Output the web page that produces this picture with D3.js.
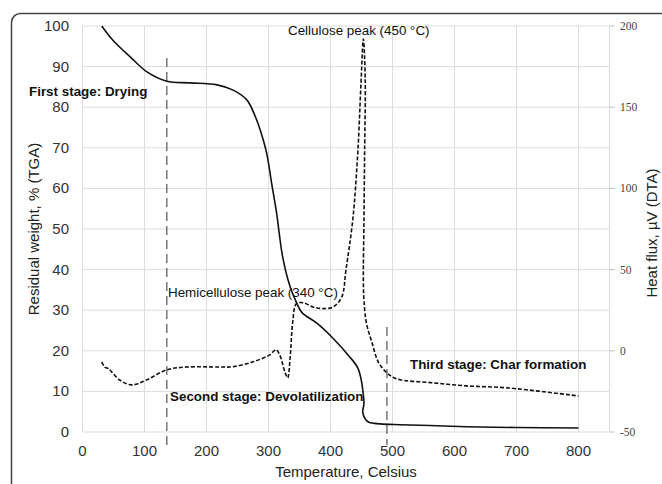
<!DOCTYPE html>
<html>
<head>
<meta charset="utf-8">
<script src="https://cdn.jsdelivr.net/npm/d3@7"></script>
<style>
  body { margin: 0; background: #fff; }
  text { font-family: "Liberation Sans", Arial, sans-serif; fill: #222; }
</style>
</head>
<body>
<div id="chart"></div>
<script>
// TGA curve (solid): residual weight %
const tgaTemp   = [31, 49, 77, 104, 136, 173, 217, 243, 265, 279, 287, 297, 305, 313, 323, 335, 346, 354, 378, 404, 431, 444, 450, 452, 454, 452, 456, 462, 480, 512, 560, 619, 700, 800];
const tgaWeight = [100, 96.5, 92.4, 88.7, 86.4, 86.0, 85.5, 84.2, 81.8, 77.6, 74.2, 68.7, 61.3, 54, 43, 35.7, 31.6, 29.4, 26.8, 23.1, 18.5, 15.8, 12.5, 10.3, 7.1, 4.9, 3.2, 2.4, 2.0, 1.8, 1.6, 1.3, 1.1, 1.0];

// DTA curve (dashed): heat flux µV
const dtaTemp = [31, 36, 42, 47, 60, 79, 103, 136, 168, 222, 243, 275, 302, 312, 318, 327, 331, 335, 339, 345, 356, 372, 388, 404, 418, 425, 436, 444, 449, 453, 456, 455, 454, 453, 454, 458, 467, 477, 491, 507, 565, 619, 684, 800];
const dtaVal  = [-6.8, -10, -11, -13, -18, -21, -18, -11.7, -10, -10, -9.8, -6.8, -2.5, 0.6, -2.5, -13.6, -16.7, -3.7, 17.3, 29, 29.6, 27, 26, 27, 33, 50, 81, 122, 163, 192, 167, 122, 81, 44, 31, 17, 5, -6.8, -13.6, -17.3, -19.7, -21.6, -22.8, -27.8];

const xTicks = [0, 100, 200, 300, 400, 500, 600, 700, 800];
const yLeftTicks = [0, 10, 20, 30, 40, 50, 60, 70, 80, 90, 100];
const yRightTicks = [-50, 0, 50, 100, 150, 200];
const stageLines = [136, 491];

const w = 662, h = 484;
const svg = d3.select('#chart').append('svg')
              .attr('width', w)
              .attr('height', h);

// outer frame
svg.append('rect')
   .attr('x', 11.5).attr('y', 13.5)
   .attr('width', 720).attr('height', 520)
   .attr('rx', 9)
   .attr('fill', 'none')
   .attr('stroke', '#444')
   .attr('stroke-width', 1.5);

const x = d3.scaleLinear().domain([0, 850]).range([82.5, 609.5]);
const yL = d3.scaleLinear().domain([0, 100]).range([432, 26]);
const yR = d3.scaleLinear().domain([-50, 200]).range([432, 26]);

// grid
svg.append('g')
   .selectAll('line')
   .data(yLeftTicks)
   .enter()
   .append('line')
   .attr('x1', x(0)).attr('x2', x(850))
   .attr('y1', d => yL(d)).attr('y2', d => yL(d))
   .attr('stroke', '#dcdcdc').attr('stroke-width', 1);

svg.append('g')
   .selectAll('line')
   .data(xTicks.concat([850]))
   .enter()
   .append('line')
   .attr('x1', d => x(d)).attr('x2', d => x(d))
   .attr('y1', yL(100)).attr('y2', yL(0))
   .attr('stroke', '#dcdcdc').attr('stroke-width', 1);

// x axis labels
svg.append('g')
   .selectAll('text')
   .data(xTicks)
   .enter()
   .append('text')
   .attr('x', d => x(d))
   .attr('y', 456)
   .attr('text-anchor', 'middle')
   .style('font-size', '15px')
   .style('fill', '#333')
   .text(d => d);

// left axis labels
svg.append('g')
   .selectAll('text')
   .data(yLeftTicks)
   .enter()
   .append('text')
   .attr('x', 69)
   .attr('y', d => yL(d) + 5)
   .attr('text-anchor', 'end')
   .style('font-size', '15px')
   .style('fill', '#333')
   .text(d => d);

// right axis ticks and labels
const rAxis = svg.append('g');
rAxis.selectAll('line')
     .data(yRightTicks)
     .enter()
     .append('line')
     .attr('x1', x(850)).attr('x2', x(850) + 5)
     .attr('y1', d => yR(d)).attr('y2', d => yR(d))
     .attr('stroke', '#bbb');
rAxis.selectAll('text')
     .data(yRightTicks)
     .enter()
     .append('text')
     .attr('x', 620)
     .attr('y', d => yR(d) + 4)
     .style('font-family', '"Liberation Serif", "Times New Roman", serif')
     .style('font-size', '11.5px')
     .style('fill', '#444')
     .text(d => d);

// axis titles
svg.append('text')
   .attr('x', x(425)).attr('y', 477)
   .attr('text-anchor', 'middle')
   .style('font-size', '15px')
   .text('Temperature, Celsius');

svg.append('text')
   .attr('transform', `translate(39,229) rotate(-90)`)
   .attr('text-anchor', 'middle')
   .style('font-size', '15px')
   .text('Residual weight, % (TGA)');

svg.append('text')
   .attr('transform', `translate(657,233) rotate(-90)`)
   .attr('text-anchor', 'middle')
   .style('font-size', '15px')
   .text('Heat flux, µV (DTA)');

// stage separators
svg.append('line')
   .attr('x1', x(stageLines[0])).attr('x2', x(stageLines[0]))
   .attr('y1', 58).attr('y2', 449)
   .attr('stroke', '#555').attr('stroke-width', 1.2)
   .attr('stroke-dasharray', '9,5');
svg.append('line')
   .attr('x1', x(stageLines[1])).attr('x2', x(stageLines[1]))
   .attr('y1', 327).attr('y2', 445)
   .attr('stroke', '#555').attr('stroke-width', 1.2)
   .attr('stroke-dasharray', '9,5');

// curves
const tgaLine = d3.line()
                  .x((d, i) => x(tgaTemp[i]))
                  .y(d => yL(d))
                  .curve(d3.curveCatmullRom.alpha(0.5));
svg.append('path')
   .attr('d', tgaLine(tgaWeight))
   .attr('fill', 'none')
   .attr('stroke', '#111')
   .attr('stroke-width', 1.6);

const dtaLine = d3.line()
                  .x((d, i) => x(dtaTemp[i]))
                  .y(d => yR(d))
                  .curve(d3.curveCatmullRom.alpha(0.5));
svg.append('path')
   .attr('d', dtaLine(dtaVal))
   .attr('fill', 'none')
   .attr('stroke', '#111')
   .attr('stroke-width', 1.6)
   .attr('stroke-dasharray', '4,2');

// annotations
const ann = [
  {t: 'First stage: Drying', x: 29, y: 96, bold: true},
  {t: 'Cellulose peak (450 °C)', x: 288, y: 35, bold: false},
  {t: 'Hemicellulose peak (340 °C)', x: 168, y: 297, bold: false},
  {t: 'Second stage: Devolatilization', x: 170, y: 401, bold: true},
  {t: 'Third stage: Char formation', x: 410, y: 369, bold: true}
];
svg.append('g')
   .selectAll('text')
   .data(ann)
   .enter()
   .append('text')
   .attr('x', d => d.x)
   .attr('y', d => d.y)
   .style('font-size', '13.4px')
   .style('font-weight', d => d.bold ? 'bold' : 'normal')
   .style('fill', '#111')
   .text(d => d.t);
</script>
</body>
</html>
